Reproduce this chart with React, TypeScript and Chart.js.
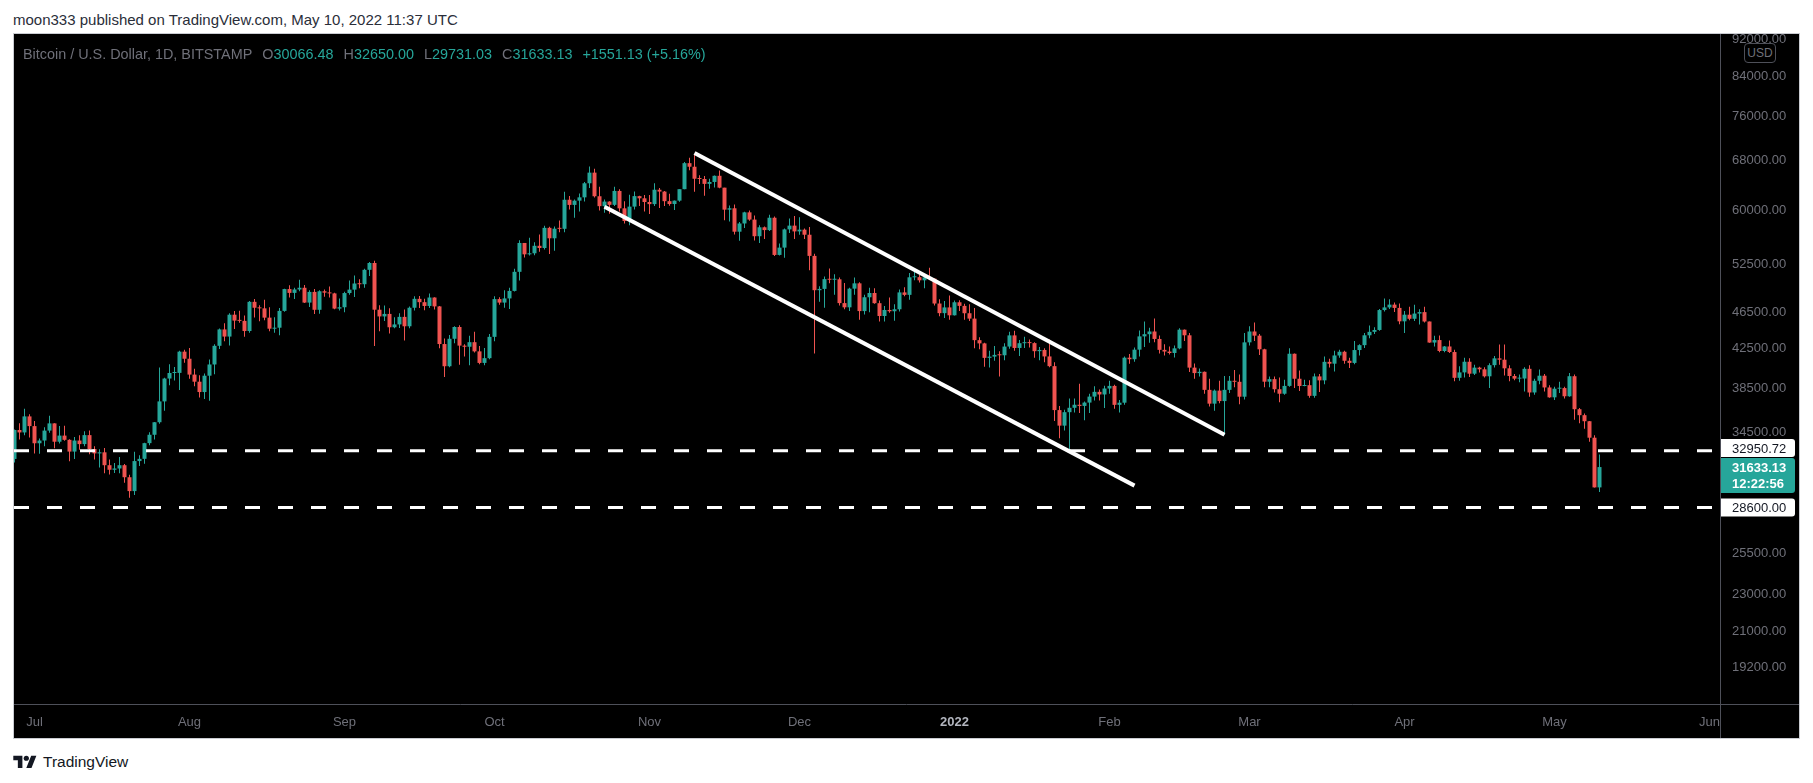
import React, { useEffect, useRef } from "react";
import { Chart, registerables } from "chart.js";

Chart.register(...registerables);

const GREEN = "#26a69a";
const RED = "#ef5350";
const AXIS_TEXT = "#6f7079";
const AXIS_LINE = "#4e5059";
const FONT = "'Liberation Sans', Arial, sans-serif";

// first candle (2021-06-27) open
const firstOpen = 32280;
// daily [high, low, close], BITSTAMP BTC/USD, starting 2021-06-27
const jun2021 = [[34750,32000,34700],[35300,33880,34490],[36600,34240,35900],[36100,34050,35040]];
const jul2021 = [
  [35500,32720,33570],[33970,32700,33800],[34950,33330,34650],[35960,34470,35280],[35280,33160,33700],[35050,33560,34220],[35080,33780,33860],[33910,32100,32880],[34090,32280,33800],[34240,33030,33500],
  [34600,33330,34260],[34650,32670,33090],[33330,32230,32730],[33080,31600,32820],[33170,31150,31780],[32240,31050,31420],[31950,31170,31520],[32440,31150,31780],[31880,30420,30840],[31040,29300,29790],
  [32860,29500,32110],[32580,31710,32290],[33620,31900,33580],[34500,33410,34290],[35400,33880,35380],[40550,35240,37270],[39540,36400,39460],[40900,38800,40010],[40620,39270,40020],[42300,38350,42200],[42400,41050,41460]];
const aug2021 = [
  [42600,39430,39850],[40430,38700,39150],[39780,37640,38150],[39950,37500,39740],[41370,37330,40870],[43000,39880,42820],[44700,42470,44610],[45300,43300,43820],[46460,42850,46280],[46700,44650,45600],
  [46740,45350,45570],[46200,43800,44430],[47880,44230,47790],[48140,45970,47090],[47380,45520,47020],[48050,45650,45940],[47150,44400,44690],[46000,44230,44800],[47050,43970,46720],[49380,46620,49340],
  [49800,48300,48870],[49500,48130,49290],[50500,49070,49500],[49850,47650,47700],[49200,47170,48990],[49350,46350,46850],[49200,46400,49070],[49300,48400,48900],[49650,48300,48810],[48900,46900,46990],[48200,46760,47150]];
const sep2021 = [
  [49000,46550,48850],[50400,48650,49270],[51050,48370,50030],[50560,49430,49940],[51900,49500,51770],[52800,50980,52660],[52950,42800,46860],[47380,44400,46080],[47350,45550,46370],[47040,44150,44850],
  [45980,44750,45170],[46450,44780,46030],[46880,43400,44960],[47250,44750,47090],[48450,46760,48150],[48500,47050,47750],[48150,46800,47300],[48800,47050,48310],[48350,46880,47250],[47300,42550,43010],
  [43600,39600,40690],[44000,40600,43580],[44950,43100,44880],[45080,40850,42840],[42990,41700,42720],[43900,40800,43210],[44350,42100,42230],[42800,40900,41030],[42600,40800,41520],[44100,41400,43790]];
const oct2021 = [
  [48450,43300,48120],[48350,47450,47700],[49200,47100,48200],[49500,46950,49110],[51900,49050,51510],[55750,50400,55360],[55300,53400,53810],[56100,53650,53950],[55450,53700,54970],[56550,54150,54670],
  [57800,54450,57490],[57650,53850,56010],[57700,54300,57370],[58550,56850,57350],[62900,56850,61670],[62250,60200,60880],[61700,58950,61530],[62650,59900,62040],[64450,61400,64260],[67000,63500,65990],
  [66650,62000,62210],[63700,60050,60690],[61700,59700,61390],[61450,59550,60890],[63700,60700,63040],[63300,59900,60360],[61450,58100,58480],[62450,57850,60620],[62950,60200,62230],[62300,60700,61890],[62400,59900,61320]];
const nov2021 = [
  [62400,59500,61000],[64250,60700,63230],[63500,60400,62940],[63050,60700,61450],[62600,60750,61010],[61550,60100,61530],[63300,61350,63320],[67750,63300,67570],[68500,66380,66970],[69000,62900,64990],
  [65580,64150,64950],[65450,62300,64160],[65000,63400,64470],[65500,63600,65470],[66350,63450,63560],[63560,58600,60160],[60800,58400,60370],[60950,56550,56940],[58350,55650,58120],[59850,57450,59760],
  [60050,58500,58690],[59300,55700,56300],[57850,55350,57570],[57700,55900,57170],[59400,57050,58960],[59150,53600,53730],[55300,53650,54720],[57400,53350,57270],[58850,56750,57810],[59200,55900,56980]];
const dec2021 = [
  [59050,56500,57230],[57400,55900,56510],[57600,51700,53600],[53900,42000,49200],[49700,47800,49360],[50900,47100,50580],[51950,50050,50500],[51200,48650,50560],[50800,47350,47640],[50100,46900,47140],
  [49500,46700,49390],[50800,48650,50050],[50200,45700,46700],[48650,46300,48340],[49500,46550,48860],[49450,47550,47630],[47950,45500,46130],[47300,45500,46830],[48300,46500,46680],[47500,45600,46910],
  [49300,46650,48930],[49550,48450,48630],[51350,48050,50810],[51850,50450,50830],[51150,50150,50430],[51250,49450,50800],[52050,50500,50640],[50650,47350,47590],[48100,46100,46460],[47900,45900,47130],[48550,45700,46210]];
const jan2022 = [
  [47950,46200,47740],[47980,46700,47310],[47550,45700,46450],[47500,45550,45830],[47050,42550,43430],[43750,42450,43080],[43150,40650,41550],[42300,40550,41680],[42800,41250,41860],[42250,39650,41820],
  [43100,41300,42740],[44350,42500,43950],[44450,42300,42590],[43450,41750,43100],[43800,42600,43180],[43500,42650,43110],[43200,41550,42250],[42700,41300,42380],[42550,41100,41700],[43500,40600,40700],
  [41100,35500,36470],[36850,34000,35080],[36500,34650,36280],[37550,32950,36680],[37550,36250,36960],[38950,36200,36850],[37250,35550,37160],[38000,36200,37720],[38700,37350,38170],[38400,37350,37920],[38750,36650,38490]];
const feb2022 = [
  [39250,38000,38740],[38850,36600,36950],[37400,36250,37150],[41700,36950,41570],[41950,40950,41410],[42650,41150,42410],[44500,41700,43840],[45500,42700,44080],[44800,43150,44380],[45850,43200,43560],
  [43950,42000,42390],[43000,41800,42210],[42750,41900,42060],[42850,41600,42550],[44750,42450,44580],[44600,43350,43960],[44200,40100,40550],[40980,39450,40000],[40450,39650,40130],[40150,38000,38360],
  [39450,36800,37060],[38400,36400,38290],[39250,37100,37300],[39700,34300,38360],[39700,38050,39240],[40300,38600,39140],[39850,37000,37710],[44200,37450,43190]];
const mar2022 = [
  [44950,42850,44380],[45400,43350,43920],[44100,41850,42450],[42500,38600,39150],[39650,38600,39400],[39650,38100,38420],[39550,37200,37990],[39350,37900,38740],[42550,38650,41980],[42000,38550,39440],
  [40250,38250,38730],[39350,38700,38810],[39300,37600,37790],[39950,37600,39670],[39900,38150,39280],[41700,38900,41140],[41450,40550,40950],[42300,40150,41800],[42400,41550,42190],[42300,40950,41250],
  [41550,40500,41030],[43350,40900,42370],[43000,41800,42890],[44200,42600,43960],[45050,43650,44340],[44850,44100,44550],[46950,44450,46820],[48200,46650,47130],[48100,46950,47460],[47700,46600,47070],[47600,45200,45520]];
const apr2022 = [
  [46700,44200,46280],[47200,45650,45810],[47450,45550,46410],[46900,45150,46580],[47200,45400,45500],[45500,43150,43170],[43900,42750,43440],[43950,42150,42270],[42800,42150,42750],[43400,42050,42160],
  [42400,39200,39530],[40700,39250,40070],[41550,39550,41150],[41500,39600,39940],[40850,39800,40550],[40650,40050,40380],[40600,39550,39680],[41000,38550,40800],[41750,40550,41500],[42950,40850,41360],
  [42950,39750,40480],[40800,39200,39710],[39900,39300,39450],[39850,39100,39460],[40600,38200,40430],[40800,37700,38110],[39450,37900,39240],[40350,38900,39740],[39900,38200,38590],[38800,37600,37650]];
const may2022 = [
  [38650,37400,38470],[39150,38050,38530],[38650,37550,37750],[40000,37700,39690],[39850,35600,36550],[36650,35300,36010],[36150,34800,35470],[35500,33700,34040],[34250,30050,30066.48],[32650,29731.03,31633.13]];

const monthBlocks = [jun2021, jul2021, aug2021, sep2021, oct2021, nov2021, dec2021, jan2022, feb2022, mar2022, apr2022, may2022];

// x-axis: day index of each month start (index 0 = 2021-06-27)
const monthTickIdx = [4, 35, 66, 96, 127, 157, 188, 219, 247, 278, 308, 339];
const monthTickLabels = ["Jul", "Aug", "Sep", "Oct", "Nov", "Dec", "2022", "Feb", "Mar", "Apr", "May", "Jun"];

// price axis ticks
const priceTicks = [92000, 84000, 76000, 68000, 60000, 52500, 46500, 42500, 38500, 34500, 25500, 23000, 21000, 19200];

// drawings: horizontal levels and the channel lines (day index, price)
const levels = [32950.72, 28600];
const channelUpper = [{ x: 136, y: 69300 }, { x: 242, y: 34300 }];
const channelLower = [{ x: 118, y: 60600 }, { x: 224, y: 30200 }];

const lastClose = 31633.13;
const countdown = "12:22:56";

const X_MIN = -0.1;
const X_MAX = 341.1;
const Y_MIN = 17505;
const Y_MAX = 93290;

function buildCandles() {
  const rows = monthBlocks.flat();
  const bodies: { x: number; y: number[] }[] = [];
  const wicks: { x: number; y: number[] }[] = [];
  const colors: string[] = [];
  let prev = firstOpen;
  rows.forEach(([h, l, c], i) => {
    const o = prev;
    bodies.push({ x: i, y: [o, c] });
    wicks.push({ x: i, y: [l, h] });
    colors.push(c >= o ? GREEN : RED);
    prev = c;
  });
  return { bodies, wicks, colors };
}

function roundRect(ctx: CanvasRenderingContext2D, x: number, y: number, w: number, h: number, r: number) {
  ctx.beginPath();
  ctx.moveTo(x, y);
  ctx.lineTo(x + w - r, y);
  ctx.quadraticCurveTo(x + w, y, x + w, y + r);
  ctx.lineTo(x + w, y + h - r);
  ctx.quadraticCurveTo(x + w, y + h, x + w - r, y + h);
  ctx.lineTo(x, y + h);
  ctx.closePath();
}

const framePlugin = {
  id: "tvFrame",
  afterDraw(chart: any) {
    const { ctx, chartArea, width, height, scales } = chart;
    ctx.save();
    ctx.strokeStyle = AXIS_LINE;
    ctx.lineWidth = 1;
    const rx = Math.round(chartArea.right) + 0.5;
    const by = Math.round(chartArea.bottom) + 0.5;
    ctx.beginPath();
    ctx.moveTo(rx, 0);
    ctx.lineTo(rx, height);
    ctx.moveTo(0, by);
    ctx.lineTo(width, by);
    ctx.stroke();

    const ys = scales.y;
    const left = Math.round(chartArea.right) + 1;
    const boxW = 74;
    // current price tag
    const cy = ys.getPixelForValue(lastClose);
    const cTop = cy - 9;
    const cH = 35;
    ctx.fillStyle = GREEN;
    roundRect(ctx, left, cTop, boxW, cH, 3);
    ctx.fill();
    ctx.fillStyle = "#ffffff";
    ctx.font = `bold 13px ${FONT}`;
    ctx.textBaseline = "middle";
    ctx.textAlign = "left";
    ctx.fillText(lastClose.toFixed(2), left + 11, cy + 1);
    ctx.fillText(countdown, left + 11, cy + 17);

    // level tags
    levels.forEach((v) => {
      const py = ys.getPixelForValue(v);
      let top = py - 9;
      const h = 18;
      if (top + h > cTop && top < cTop + cH) {
        if (py < cy) top = cTop - h - 1;
        else top = cTop + cH + 1;
      }
      ctx.fillStyle = "#ffffff";
      roundRect(ctx, left, top, boxW, h, 3);
      ctx.fill();
      ctx.fillStyle = "#131722";
      ctx.font = `13px ${FONT}`;
      ctx.fillText(v.toFixed(2), left + 11, top + h / 2 + 1);
    });
    ctx.restore();
  },
};

function TvLogo() {
  return (
    <svg width="24" height="13" viewBox="0 0 36 20" style={{ position: "absolute", left: 13, top: 755 }}>
      <path d="M14 20H7V8H0V1h14v19zM28 20h-8l7.5-19h8L28 20z" fill="#131722" />
      <circle cx="20" cy="5" r="4" fill="#131722" />
    </svg>
  );
}

export default function App() {
  const ref = useRef<HTMLCanvasElement | null>(null);

  useEffect(() => {
    if (!ref.current) return;
    const { bodies, wicks, colors } = buildCandles();
    const levelData = levels.map((v) => [
      { x: X_MIN, y: v },
      { x: X_MAX, y: v },
    ]);
    const chart = new Chart(ref.current, {
      type: "bar",
      data: {
        datasets: [
          ...levelData.map((d) => ({
            type: "line" as const,
            data: d,
            borderColor: "#ffffff",
            borderWidth: 3,
            borderDash: [15, 18],
            pointRadius: 0,
            order: 0,
          })),
          {
            type: "line" as const,
            data: channelUpper,
            borderColor: "#ffffff",
            borderWidth: 4,
            pointRadius: 0,
            order: 0,
          },
          {
            type: "line" as const,
            data: channelLower,
            borderColor: "#ffffff",
            borderWidth: 4,
            pointRadius: 0,
            order: 0,
          },
          {
            type: "bar" as const,
            data: bodies,
            backgroundColor: colors,
            borderWidth: 0,
            grouped: false,
            barPercentage: 0.8,
            categoryPercentage: 1,
            minBarLength: 1,
            order: 1,
          },
          {
            type: "bar" as const,
            data: wicks,
            backgroundColor: colors,
            borderWidth: 0,
            grouped: false,
            barPercentage: 0.2,
            categoryPercentage: 1,
            order: 2,
          },
        ] as any,
      },
      options: {
        animation: false,
        responsive: false,
        maintainAspectRatio: false,
        devicePixelRatio: 1,
        layout: { padding: 0 },
        plugins: { legend: { display: false }, tooltip: { enabled: false } },
        scales: {
          x: {
            type: "linear",
            min: X_MIN,
            max: X_MAX,
            offset: false,
            bounds: "data",
            grid: { display: false, drawTicks: false, offset: false },
            border: { display: false },
            afterBuildTicks: (scale: any) => {
              scale.ticks = monthTickIdx.map((v) => ({ value: v }));
            },
            afterFit: (scale: any) => {
              scale.height = 34;
              scale.paddingLeft = 0;
              scale.paddingRight = 0;
            },
            ticks: {
              autoSkip: false,
              maxRotation: 0,
              padding: 11,
              color: (c: any) => (c.tick && c.tick.value === 188 ? "#b2b5be" : AXIS_TEXT),
              font: (c: any) =>
                c.tick && c.tick.value === 188
                  ? { family: FONT, size: 13, weight: "bold" }
                  : { family: FONT, size: 13 },
              callback: (v: any) => {
                const i = monthTickIdx.indexOf(Number(v));
                return i >= 0 ? monthTickLabels[i] : "";
              },
            },
          },
          y: {
            type: "logarithmic",
            position: "right",
            min: Y_MIN,
            max: Y_MAX,
            bounds: "data",
            grid: { display: false, drawTicks: false },
            border: { display: false },
            afterBuildTicks: (scale: any) => {
              scale.ticks = priceTicks.map((v) => ({ value: v }));
            },
            afterFit: (scale: any) => {
              scale.width = 79;
              scale.paddingTop = 0;
              scale.paddingBottom = 0;
            },
            ticks: {
              padding: 12,
              color: AXIS_TEXT,
              font: { family: FONT, size: 13 },
              callback: (v: any) => Number(v).toFixed(2),
            },
          },
        },
      } as any,
      plugins: [framePlugin],
    });
    return () => chart.destroy();
  }, []);

  const legendItem = (k: string, v: string) => (
    <span style={{ marginLeft: 10 }}>
      <span style={{ color: "#6f7079" }}>{k}</span>
      <span style={{ color: GREEN }}>{v}</span>
    </span>
  );

  return (
    <div style={{ position: "fixed", left: 0, top: 0, width: 1813, height: 783, background: "#ffffff", fontFamily: FONT }}>
      <div style={{ position: "absolute", left: 13, top: 11, fontSize: 15, lineHeight: "18px", color: "#2a2e39", whiteSpace: "nowrap" }}>
        moon333 published on TradingView.com, May 10, 2022 11:37 UTC
      </div>
      <div
        style={{
          position: "absolute",
          left: 13,
          top: 33,
          width: 1785,
          height: 704,
          border: "1px solid #c9cbd1",
          background: "#000000",
        }}
      >
        <canvas ref={ref} width={1785} height={704} style={{ display: "block", width: 1785, height: 704 }} />
        <div style={{ position: "absolute", left: 9, top: 11, fontSize: 14.4, lineHeight: "18px", whiteSpace: "nowrap", color: "#6f7079" }}>
          <span>Bitcoin / U.S. Dollar, 1D, BITSTAMP</span>
          {legendItem("O", "30066.48")}
          {legendItem("H", "32650.00")}
          {legendItem("L", "29731.03")}
          {legendItem("C", "31633.13")}
          <span style={{ marginLeft: 10, color: GREEN }}>+1551.13 (+5.16%)</span>
        </div>
        <div
          style={{
            position: "absolute",
            left: 1730,
            top: 9,
            width: 30,
            height: 18,
            border: "1px solid #4e5059",
            borderRadius: 4,
            background: "#000000",
            color: "#6f7079",
            fontSize: 12,
            lineHeight: "18px",
            textAlign: "center",
          }}
        >
          USD
        </div>
      </div>
      <TvLogo />
      <div style={{ position: "absolute", left: 43, top: 752, fontSize: 15.5, lineHeight: "19px", color: "#131722" }}>
        TradingView
      </div>
    </div>
  );
}
